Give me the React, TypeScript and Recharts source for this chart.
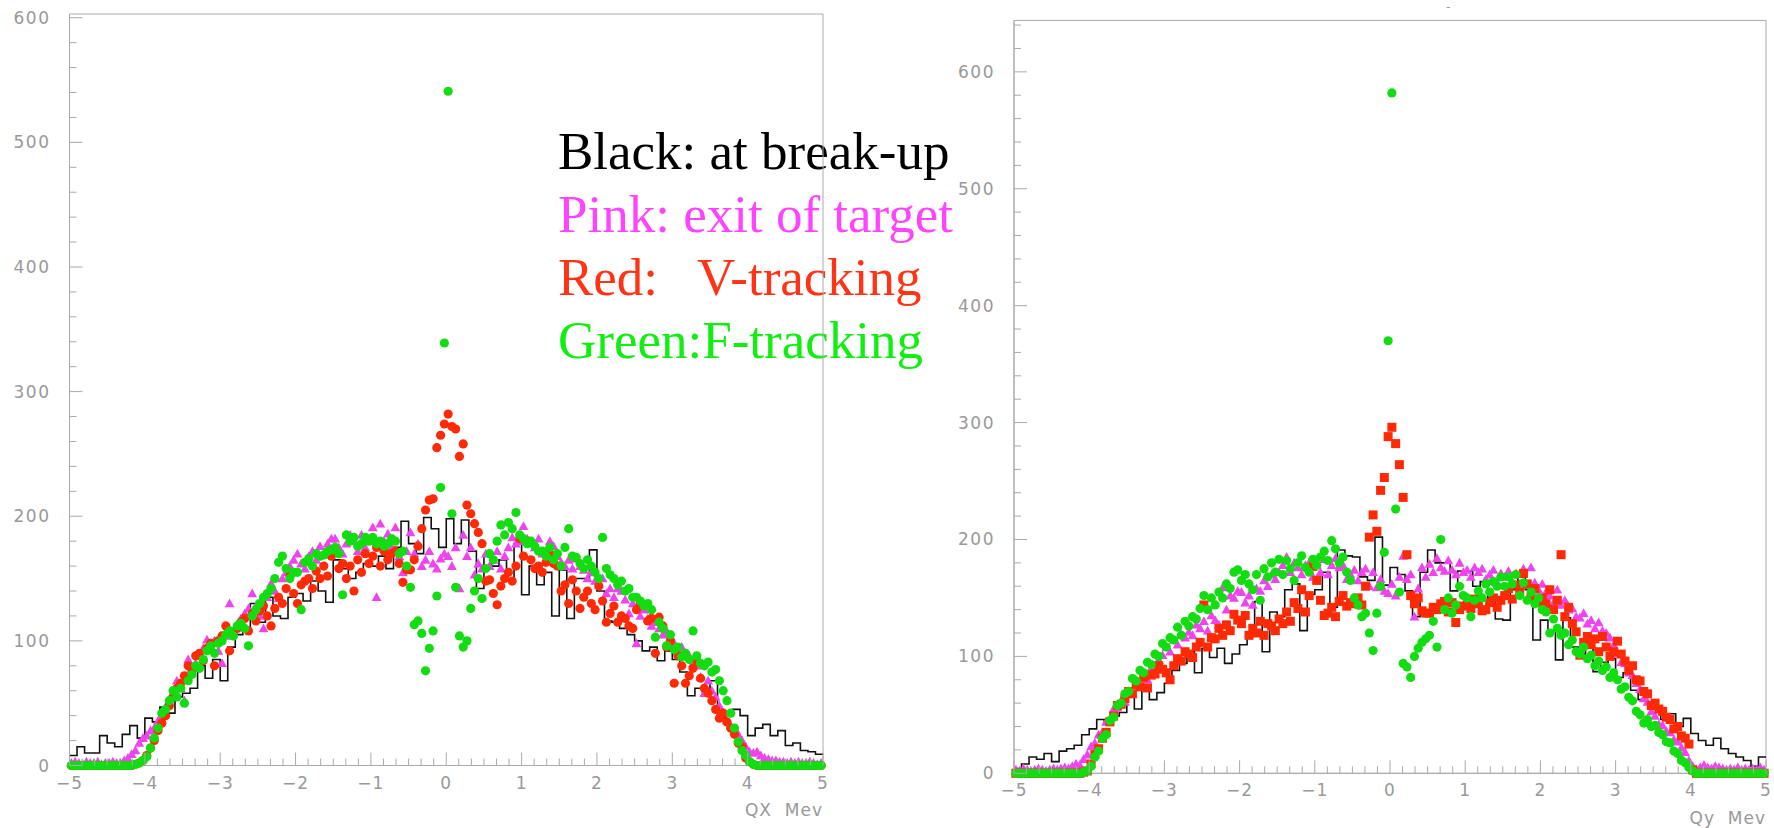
import React from "react";
import {
  ComposedChart,
  Line,
  Scatter,
  XAxis,
  YAxis,
  ReferenceArea,
} from "recharts";

// histogram bins: black = 0.1 wide, markers = 0.05 wide, from -5 to 5
const X_MIN = -5;
const X_MAX = 5;
const HIST_BIN = 0.1;
const MARKER_BIN = 0.05;

const xMajorTicks = [-5, -4, -3, -2, -1, 0, 1, 2, 3, 4, 5];
const xMinorPerUnit = 6;
const yMinorStep = 20;

// ---- QX panel (left) ----
const qxBlack = [
  8, 15, 10, 10, 24, 18, 15, 25, 32, 22,
  38, 35, 47, 42, 55, 58, 62, 80, 70, 85,
  68, 95, 105, 108, 130, 115, 135, 120, 118, 135,
  138, 132, 148, 140, 131, 165, 158, 150, 155, 162,
  160, 168, 158, 175, 196, 178, 170, 199, 190, 175,
  198, 178, 197, 172, 142, 168, 160, 165, 150, 178,
  137, 160, 145, 155, 120, 157, 118, 150, 150, 173,
  140, 116, 115, 110, 105, 100, 92, 95, 84, 92,
  85, 75, 56, 62, 58, 68, 38, 42, 45, 40,
  24, 30, 33, 24, 28, 16, 18, 12, 11, 9,
];

const qxPink = [
  2, 3, 2, 1, 3, 2, 2, 3, 1, 2,
  2, 3, 2, 2, 4, 6, 9, 12, 18, 22,
  24, 28, 30, 36, 40, 47, 52, 58, 68, 62,
  52, 85, 74, 82, 88, 94, 101, 96, 100, 92,
  82, 104, 130, 108, 113, 118, 122, 126, 138, 128,
  120, 110, 135, 146, 140, 134, 150, 155, 160, 165,
  170, 162, 158, 168, 172, 165, 176, 170, 178, 182,
  182, 175, 170, 178, 185, 180, 172, 185, 175, 180,
  191, 135, 194, 180, 186, 175, 191, 168, 155, 172,
  187, 170, 178, 160, 165, 172, 162, 158, 166, 170,
  168, 160, 175, 142, 185, 168, 175, 153, 162, 158,
  170, 160, 165, 172, 158, 168, 175, 183, 178, 180,
  192, 182, 180, 175, 182, 170, 172, 180, 176, 168,
  163, 160, 165, 158, 166, 160, 157, 150, 155, 148,
  145, 150, 138, 142, 135, 142, 140, 133, 122, 130,
  98, 120, 125, 118, 112, 115, 110, 105, 108, 100,
  98, 92, 95, 90, 88, 82, 80, 71, 58, 68,
  60, 55, 48, 42, 36, 32, 29, 25, 20, 15,
  11, 10, 11, 8, 6, 5, 4, 4, 3, 3,
  2, 3, 2, 3, 2, 2, 3, 2, 1, 2,
];

const qxRed = [
  0, 0, 0, 0, 0, 0, 0, 0, 0, 0,
  0, 0, 0, 0, 0, 0, 0, 1, 2, 4,
  8, 14, 20, 28, 34, 40, 48, 55, 62, 66,
  72, 80, 76, 88, 90, 84, 94, 98, 80, 100,
  104, 112, 92, 106, 110, 115, 118, 108, 122, 116,
  124, 128, 120, 112, 126, 135, 130, 142, 152, 138,
  130, 145, 148, 150, 142, 156, 150, 160, 152, 168,
  173, 158, 162, 150, 160, 140, 165, 155, 170, 162,
  168, 175, 160, 172, 165, 170, 172, 162, 147, 157,
  157, 165, 176, 190, 205, 213, 214, 255, 265, 274,
  282, 272, 270, 248, 258, 209, 202, 194, 187, 178,
  148, 149, 138, 129, 144, 150, 155, 148, 160, 182,
  168, 180, 165, 158, 160, 155, 163, 170, 162, 160,
  140, 145, 130, 149, 140, 126, 135, 140, 130, 125,
  144, 132, 115, 122, 128, 115, 120, 118, 112, 110,
  125, 130, 129, 116, 118, 90, 119, 112, 95, 100,
  66, 88, 80, 66, 72, 78, 84, 70, 62, 58,
  52, 45, 38, 42, 35, 30, 25, 18, 15, 6,
  3, 1, 0, 0, 0, 0, 0, 0, 0, 0,
  0, 0, 0, 0, 0, 0, 0, 0, 0, 0,
];

const qxGreen = [
  0, 0, 0, 0, 0, 0, 0, 0, 0, 0,
  0, 0, 0, 0, 0, 0, 0, 1, 2, 4,
  7, 14, 22, 30, 42, 45, 52, 60, 55, 62,
  50, 68, 73, 80, 78, 85, 92, 96, 90, 98,
  100, 105, 108, 104, 112, 114, 110, 96, 120, 125,
  130, 135, 138, 142, 150, 163, 168, 158, 150, 155,
  155, 125, 163, 166, 160, 170, 168, 169, 172, 173,
  175, 170, 137, 185, 180, 183, 176, 178, 183, 180,
  183, 178, 180, 176, 178, 182, 180, 170, 172, 160,
  143, 113, 116, 106, 76, 94, 108, 136, 223, 339,
  541, 202, 143, 104, 95, 100, 126, 140, 150, 134,
  158, 170, 165, 180, 193, 185, 195, 190, 203, 185,
  182, 178, 180, 176, 172, 172, 168, 175, 165, 170,
  160, 175, 190, 168, 167, 162, 158, 165, 160, 155,
  150, 183, 158, 153, 150, 145, 148, 140, 142, 135,
  135, 132, 128, 130, 125, 103, 115, 110, 96, 105,
  93, 95, 87, 90, 85, 108, 88, 82, 80, 83,
  75, 77, 68, 60, 52, 42, 30, 19, 12, 8,
  3, 1, 0, 0, 0, 0, 0, 0, 0, 0,
  0, 0, 0, 0, 0, 0, 0, 0, 0, 0,
];

// ---- Qy panel (right) ----
const qyBlack = [
  4, 8, 14, 12, 17, 10, 19, 21, 24, 33,
  38, 46, 44, 49, 52, 66, 55, 72, 63, 69,
  77, 88, 94, 104, 86, 107, 99, 107, 94, 102,
  110, 118, 147, 104, 138, 134, 157, 162, 122, 153,
  157, 172, 142, 191, 186, 185, 168, 165, 202, 161,
  176, 170, 156, 134, 172, 191, 180, 180, 156, 173,
  173, 160, 164, 150, 132, 131, 157, 168, 157, 114,
  131, 122, 97, 133, 108, 102, 112, 87, 95, 98,
  82, 86, 71, 63, 60, 57, 46, 51, 40, 47,
  34, 28, 24, 30, 21, 17, 14, 11, 6, 14,
];

const qyPink = [
  3, 2, 4, 3, 2, 3, 4, 3, 2, 3,
  4, 3, 4, 5, 4, 6, 8, 7, 12, 16,
  23, 26, 33, 35, 44, 46, 55, 56, 62, 61,
  70, 68, 76, 75, 83, 80, 90, 86, 97, 101,
  108, 104, 114, 110, 119, 116, 121, 118, 127, 124,
  130, 122, 135, 131, 127, 159, 140, 152, 150, 156,
  155, 146, 152, 144, 158, 156, 165, 160, 170, 166,
  172, 178, 185, 172, 180, 176, 170, 178, 180, 168,
  179, 172, 183, 170, 178, 184, 176, 178, 166, 170,
  174, 165, 172, 175, 160, 172, 159, 166, 156, 154,
  162, 152, 168, 186, 166, 170, 134, 158, 176, 168,
  179, 172, 184, 176, 173, 182, 174, 170, 180, 172,
  174, 168, 176, 172, 175, 166, 170, 174, 163, 171,
  168, 173, 164, 171, 162, 175, 161, 176, 163, 157,
  162, 155, 152, 146, 157, 144, 148, 140, 141, 134,
  133, 137, 128, 131, 124, 129, 122, 120, 116, 110,
  102, 95, 94, 86, 84, 77, 72, 64, 61, 53,
  49, 42, 41, 36, 35, 29, 27, 22, 18, 11,
  6, 3, 5, 7, 5, 4, 6, 5, 4, 3,
  4, 3, 5, 3, 4, 3, 4, 3, 5, 3,
];

const qyRed = [
  0, 0, 0, 0, 0, 0, 0, 0, 0, 0,
  0, 0, 0, 0, 0, 0, 0, 0, 1, 2,
  8, 16, 21, 30, 35, 44, 49, 58, 59, 64,
  70, 68, 76, 74, 82, 73, 84, 85, 92, 89,
  86, 80, 92, 98, 96, 104, 102, 99, 108, 112,
  144, 108, 116, 115, 124, 118, 127, 122, 136, 131,
  128, 135, 118, 124, 120, 130, 118, 128, 126, 122,
  132, 128, 138, 130, 146, 141, 157, 138, 152, 177,
  165, 148, 135, 137, 142, 134, 147, 152, 143, 146,
  145, 150, 144, 160, 202, 221, 207, 242, 253, 288,
  296, 282, 264, 236, 187, 152, 145, 150, 139, 137,
  137, 142, 140, 145, 147, 138, 146, 129, 140, 143,
  144, 141, 149, 145, 139, 140, 146, 150, 142, 148,
  152, 158, 149, 161, 155, 171, 162, 150, 158, 146,
  150, 145, 157, 140, 148, 187, 134, 142, 128, 121,
  101, 112, 117, 110, 115, 104, 117, 108, 100, 104,
  113, 102, 96, 88, 92, 80, 79, 70, 68, 58,
  60, 55, 53, 48, 46, 38, 40, 32, 30, 25,
  3, 0, 0, 0, 0, 0, 0, 0, 0, 0,
  0, 0, 0, 0, 0, 0, 0, 0, 0, 0,
];

const qyGreen = [
  0, 0, 0, 0, 0, 0, 0, 0, 0, 0,
  0, 0, 0, 0, 0, 0, 0, 0, 1, 2,
  6, 14, 19, 30, 33, 45, 48, 58, 60, 68,
  70, 81, 79, 88, 86, 95, 93, 102, 100, 111,
  108, 116, 114, 125, 118, 130, 126, 134, 132, 141,
  152, 140, 150, 144, 155, 150, 162, 158, 172, 174,
  165, 170, 162, 157, 170, 148, 175, 168, 180, 172,
  183, 170, 182, 175, 165, 180, 186, 176, 172, 183,
  178, 185, 190, 182, 199, 192, 180, 185, 172, 165,
  150, 144, 134, 137, 120, 105, 137, 160, 189, 370,
  582, 226, 155, 94, 91, 82, 100, 107, 112, 115,
  118, 130, 108, 200, 140, 150, 137, 144, 160, 152,
  150, 134, 148, 156, 150, 162, 155, 164, 160, 168,
  160, 168, 162, 170, 152, 163, 148, 155, 145, 150,
  140, 138, 120, 132, 124, 118, 120, 110, 114, 104,
  102, 108, 98, 101, 92, 96, 88, 91, 82, 86,
  80, 72, 74, 65, 62, 53, 50, 43, 46, 40,
  41, 35, 33, 27, 26, 19, 17, 11, 9, 5,
  2, 0, 0, 0, 0, 0, 0, 0, 0, 0,
  0, 0, 0, 0, 0, 0, 0, 0, 0, 0,
];

const legendLines = [
  { text: "Black: at break-up", color: "#000000" },
  { text: "Pink: exit of target", color: "#ff44ff" },
  { text: "Red:   V-tracking", color: "#ff3315" },
  { text: "Green:F-tracking", color: "#11ee11" },
];

const PINK = "#ee44ee";
const RED = "#ff2a05";
const GREEN = "#11dd11";
const AXIS = "#aaaaaa";
const LABEL = "#999999";
const TICK_FONT = "'DejaVu Sans', sans-serif";
const X_AXIS_HEIGHT = 2;

const histPoints = (vals: number[]) => [
  ...vals.map((v, i) => ({ x: X_MIN + HIST_BIN * i, y: v })),
  { x: X_MAX, y: vals[vals.length - 1] },
];

const markerPoints = (vals: number[]) =>
  vals.map((v, i) => ({ x: X_MIN + MARKER_BIN * (i + 0.5), y: v }));

const xTicks: number[] = [];
for (let k = 0; k < xMajorTicks.length - 1; k++) {
  for (let m = 0; m < xMinorPerUnit; m++) {
    xTicks.push(xMajorTicks[k] + m / xMinorPerUnit);
  }
}
xTicks.push(xMajorTicks[xMajorTicks.length - 1]);

const yTicksUpTo = (max: number) => {
  const t: number[] = [];
  for (let v = 0; v <= max; v += yMinorStep) t.push(v);
  return t;
};

const circle = (color: string) => (p: any) =>
  <circle cx={p.cx} cy={p.cy} r={4.6} fill={color} />;

const square = (color: string) => (p: any) =>
  <rect x={p.cx - 4.5} y={p.cy - 4.5} width={9} height={9} fill={color} />;

const triangle = (color: string) => (p: any) => (
  <polygon
    points={`${p.cx},${p.cy - 5} ${p.cx - 4.9},${p.cy + 3.8} ${p.cx + 4.9},${p.cy + 3.8}`}
    fill={color}
  />
);

const fmt = (v: number) => (v < 0 ? "\u2212" + Math.abs(v) : String(v));

const XTick = (p: any) => {
  const v = p.payload.value;
  const major = Math.abs(v - Math.round(v)) < 1e-6;
  return (
    <g>
      <line x1={p.x} x2={p.x} y1={p.y} y2={p.y - (major ? 13 : 7)} stroke={AXIS} />
      {major && (
        <text
          x={p.x}
          y={p.y + 17}
          textAnchor="middle"
          dominantBaseline="central"
          fill={LABEL}
          fontSize={17}
          fontFamily={TICK_FONT}
          letterSpacing={1}
        >
          {fmt(Math.round(v))}
        </text>
      )}
    </g>
  );
};

const YTick = (p: any) => {
  const v = p.payload.value;
  const major = v % 100 === 0;
  return (
    <g>
      <line x1={p.x} x2={p.x + (major ? 13 : 7)} y1={p.y} y2={p.y} stroke={AXIS} />
      {major && (
        <text
          x={p.x - 19}
          y={p.y}
          textAnchor="end"
          dominantBaseline="central"
          fill={LABEL}
          fontSize={17}
          fontFamily={TICK_FONT}
          letterSpacing={1.5}
        >
          {v}
        </text>
      )}
    </g>
  );
};

type PanelProps = {
  left: number;
  width: number;
  axisWidth: number;
  margin: { top: number; right: number; bottom: number; left: number };
  yMax: number;
  black: number[];
  pink: number[];
  red: number[];
  green: number[];
  redShape: (c: string) => (p: any) => React.ReactElement;
  title: string;
  titleTop: number;
};

function Panel(props: PanelProps) {
  const { left, width, axisWidth, margin, yMax } = props;
  return (
    <div style={{ position: "absolute", left, top: 0, width, height: 828 }}>
      <ComposedChart width={width} height={828} margin={margin}>
        <XAxis
          type="number"
          dataKey="x"
          domain={[X_MIN, X_MAX]}
          ticks={xTicks}
          interval={0}
          height={X_AXIS_HEIGHT}
          tick={XTick}
          tickLine={false}
          tickSize={0}
          tickMargin={0}
          axisLine={{ stroke: AXIS }}
        />
        <YAxis
          type="number"
          dataKey="y"
          domain={[0, yMax]}
          ticks={yTicksUpTo(yMax)}
          interval={0}
          width={axisWidth}
          tick={YTick}
          tickLine={false}
          tickSize={0}
          tickMargin={0}
          axisLine={{ stroke: AXIS }}
        />
        <ReferenceArea
          x1={X_MIN}
          x2={X_MAX}
          y1={0}
          y2={yMax}
          fill="none"
          stroke={AXIS}
        />
        <Scatter
          data={markerPoints(props.pink)}
          dataKey="y"
          shape={triangle(PINK)}
          isAnimationActive={false}
        />
        <Scatter
          data={markerPoints(props.red)}
          dataKey="y"
          shape={props.redShape(RED)}
          isAnimationActive={false}
        />
        <Scatter
          data={markerPoints(props.green)}
          dataKey="y"
          shape={circle(GREEN)}
          isAnimationActive={false}
        />
        <Line
          data={histPoints(props.black)}
          dataKey="y"
          type="stepAfter"
          stroke="#111111"
          strokeWidth={1.6}
          dot={false}
          activeDot={false}
          isAnimationActive={false}
        />
      </ComposedChart>
      <div
        style={{
          position: "absolute",
          right: margin.right,
          top: props.titleTop,
          color: LABEL,
          fontSize: 17,
          fontFamily: TICK_FONT,
          letterSpacing: 1,
          whiteSpace: "pre",
          lineHeight: "20px",
        }}
      >
        {props.title}
      </div>
    </div>
  );
}

export default function App() {
  return (
    <div
      style={{
        position: "absolute",
        left: 0,
        top: 0,
        width: 1774,
        height: 828,
        background: "#ffffff",
        overflow: "hidden",
      }}
    >
      <div
        style={{
          position: "absolute",
          left: 558,
          top: 120,
          fontFamily: "'Liberation Serif', 'Times New Roman', serif",
          fontSize: 53,
          lineHeight: "63px",
          whiteSpace: "pre",
        }}
      >
        {legendLines.map((l) => (
          <div key={l.text} style={{ color: l.color }}>
            {l.text}
          </div>
        ))}
      </div>
      <Panel
        left={0}
        width={840}
        axisWidth={69.5}
        margin={{ top: 14, right: 17, bottom: 62.5 - X_AXIS_HEIGHT, left: 0 }}
        yMax={603}
        black={qxBlack}
        pink={qxPink}
        red={qxRed}
        green={qxGreen}
        redShape={circle}
        title="QX  Mev"
        titleTop={800}
      />
      <Panel
        left={940}
        width={834}
        axisWidth={74}
        margin={{ top: 20.4, right: 8, bottom: 54.7 - X_AXIS_HEIGHT, left: 0 }}
        yMax={644}
        black={qyBlack}
        pink={qyPink}
        red={qyRed}
        green={qyGreen}
        redShape={square}
        title="Qy  Mev"
        titleTop={808}
      />
      <div
        style={{
          position: "absolute",
          left: 1446,
          top: 0,
          color: LABEL,
          fontSize: 12,
          fontFamily: TICK_FONT,
        }}
      >
        -
      </div>
    </div>
  );
}
